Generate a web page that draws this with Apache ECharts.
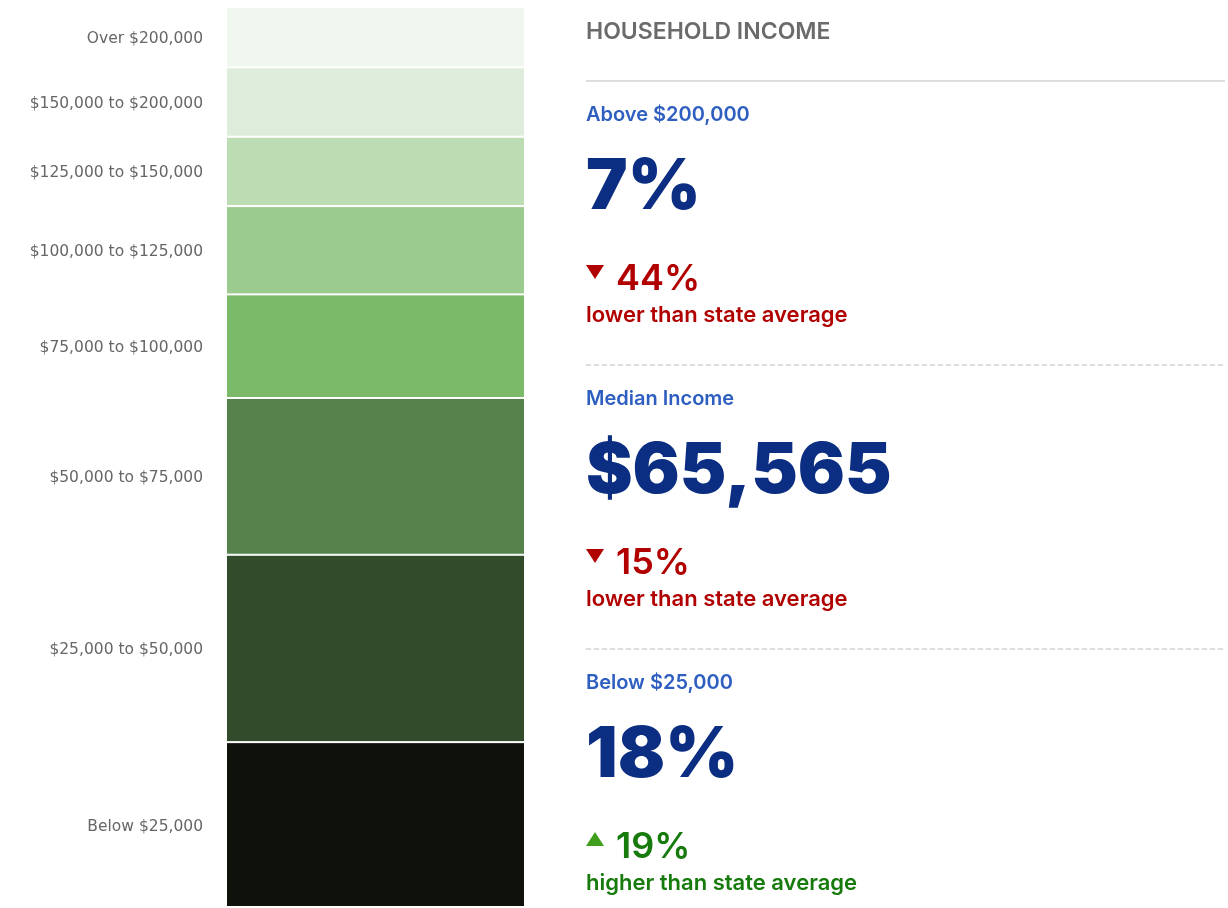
<!DOCTYPE html>
<html>
<head>
<meta charset="utf-8">
<script src="https://cdn.jsdelivr.net/npm/echarts@6/dist/echarts.min.js"></script>
<style>
html,body{margin:0;padding:0;background:#fff;}
#chart{width:1228px;height:908px;}
</style>
</head>
<body>
<div id="chart"></div>
<script>
// Income brackets, bottom of the bar first
const categories = ['Below $25,000', '$25,000 to $50,000', '$50,000 to $75,000', '$75,000 to $100,000',
  '$100,000 to $125,000', '$125,000 to $150,000', '$150,000 to $200,000', 'Over $200,000'];
// Share of households (%) per bracket
const shares = [18.3, 20.8, 17.4, 11.5, 9.8, 7.7, 7.7, 6.7];

// Right-hand stat panel
const panelTitle = 'HOUSEHOLD INCOME';
const statLabels = ['Above $200,000', 'Median Income', 'Below $25,000'];
const statValues = ['7%', '$65,565', '18%'];
const statChanges = ['44%', '15%', '19%'];
const statDirections = ['down', 'down', 'up'];
const statDescriptions = ['lower than state average', 'lower than state average', 'higher than state average'];

const segColors = ['#0e120b', '#324b2b', '#55824a', '#7aba68', '#9ccb8f', '#bcdcb3', '#deecdb', '#f0f7ef'];

const total = shares.reduce((a, b) => a + b, 0);
const chart = echarts.init(document.getElementById('chart'));

const series = categories.map((name, i) => ({
  name: name,
  type: 'bar',
  stack: 'income',
  barWidth: '100%',
  data: [shares[i]],
  itemStyle: { color: segColors[i], borderColor: '#ffffff', borderWidth: 1 },
  label: {
    show: true,
    position: 'left',
    distance: 23,
    offset: [0, 2],
    formatter: name,
    color: '#666',
    fontFamily: 'DejaVu Sans',
    fontSize: 15.5
  },
  emphasis: { disabled: true },
  silent: true
}));

const X0 = 586;
const graphics = [
  { type: 'text', x: X0, y: 32, style: { text: panelTitle, fill: '#6b6b6b', font: '600 23px Inter', verticalAlign: 'middle' } },
  { type: 'line', shape: { x1: X0, y1: 81, x2: 1225, y2: 81 }, style: { stroke: '#dddddd', lineWidth: 2 } }
];
const blockTop = [115, 399, 683];
statLabels.forEach((lab, i) => {
  const y = blockTop[i];
  const up = statDirections[i] === 'up';
  const cText = up ? '#177a0c' : '#b10000';
  const cTri = up ? '#3f9f1d' : '#b10000';
  graphics.push(
    { type: 'text', x: X0, y: y, style: { text: lab, fill: '#2e5fc0', font: '600 20px Inter', verticalAlign: 'middle' } },
    { type: 'text', x: X0, y: y + 73, style: { text: statValues[i], fill: '#0b2d82', font: '900 70px Inter', verticalAlign: 'middle' } },
    { type: 'polygon', shape: { points: up ? [[586, y + 163], [604, y + 163], [595, y + 149]] : [[586, y + 150], [604, y + 150], [595, y + 164]] }, style: { fill: cTri } },
    { type: 'text', x: 616, y: y + 164, style: { text: statChanges[i], fill: cText, font: '600 36px Inter', verticalAlign: 'middle' } },
    { type: 'text', x: X0, y: y + 200, style: { text: statDescriptions[i], fill: cText, font: '600 22px Inter', verticalAlign: 'middle' } }
  );
  if (i < 2) {
    graphics.push({ type: 'line', shape: { x1: X0, y1: y + 250, x2: 1225, y2: y + 250 }, style: { stroke: '#dddddd', lineWidth: 2, lineDash: [5, 3] } });
  }
});

chart.setOption({
  animation: false,
  grid: { left: 226, right: 703, top: 7, bottom: 1 },
  xAxis: { type: 'category', data: ['Households'], show: false },
  yAxis: { type: 'value', min: 0, max: total, show: false },
  series: series,
  graphic: graphics
});
</script>
</body>
</html>
